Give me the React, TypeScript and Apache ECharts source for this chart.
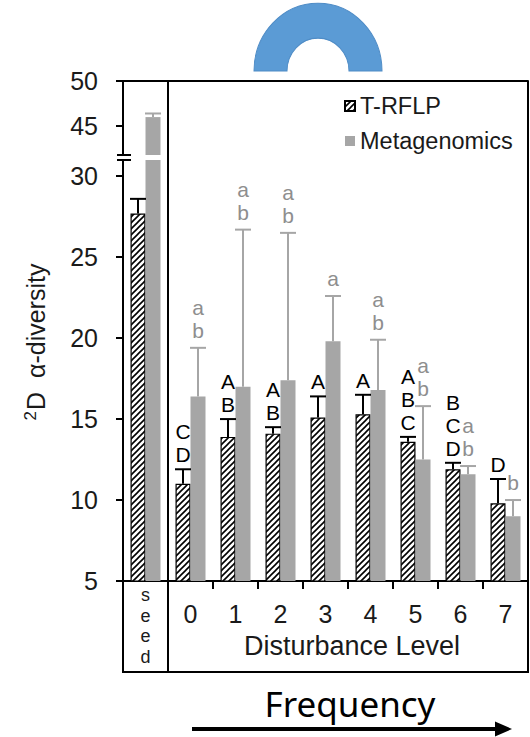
import React, { useEffect, useRef } from "react";
import * as echarts from "echarts";

// ---------- data ----------
const categories = ["seed", "0", "1", "2", "3", "4", "5", "6", "7"];
const trflpMean = [27.7, 11.0, 13.9, 14.1, 15.1, 15.3, 13.6, 11.9, 9.8];
const trflpErr = [0.9, 0.9, 1.1, 0.4, 1.3, 1.2, 0.3, 0.4, 1.5];
const metaMean = [46.0, 16.4, 17.0, 17.4, 19.8, 16.8, 12.5, 11.6, 9.0];
const metaErr = [0.4, 3.0, 9.7, 9.1, 2.8, 3.1, 3.3, 0.5, 1.0];
const trflpLetters = ["", "CD", "AB", "AB", "A", "A", "ABC", "BCD", "D"];
const metaLetters = ["", "ab", "ab", "ab", "a", "ab", "ab", "ab", "b"];
const lowerTicks = [5, 10, 15, 20, 25, 30];
const upperTicks = [45, 50];

// ---------- layout ----------
const W = 530;
const H = 737;
const L = 123;
const R = 528;
const UPPER_TOP = 81;
const UPPER_BOTTOM = 155;
const LOWER_TOP = 160;
const LOWER_BOTTOM = 581;
const BOX_BOTTOM = 672;
const LOWER_MIN = 5;
const LOWER_MAX = 31;
const UPPER_MIN = 41.8;
const UPPER_MAX = 50;
const BAR_W = 15;
const FONT = "Liberation Sans, Arial, sans-serif";
const GRAY = "#A6A6A6";
const GRAY_TEXT = "#8E8E8E";
const INK = "#1a1a1a";

function makeHatch() {
  const s = 6;
  const c = document.createElement("canvas");
  c.width = s;
  c.height = s;
  const ctx = c.getContext("2d")!;
  ctx.fillStyle = "#fff";
  ctx.fillRect(0, 0, s, s);
  ctx.strokeStyle = "#000";
  ctx.lineWidth = 1.6;
  ctx.beginPath();
  ctx.moveTo(-1, s + 1);
  ctx.lineTo(s + 1, -1);
  ctx.moveTo(-1, 1);
  ctx.lineTo(1, -1);
  ctx.moveTo(s - 1, s + 1);
  ctx.lineTo(s + 1, s - 1);
  ctx.stroke();
  return c;
}

function errorRenderer(
  sign: number,
  color: string,
  textColor: string,
  letters: string[],
  lo: number,
  hi: number,
  textGap: number
) {
  return (params: any, api: any) => {
    const i = api.value(0);
    const mean = api.value(1);
    const err = api.value(2);
    const top = mean + err;
    if (mean < lo || top > hi) return null;
    const base = api.coord([i, mean]);
    const cap = api.coord([i, top]);
    const x = base[0] + (sign * BAR_W) / 2;
    const children: any[] = [
      {
        type: "line",
        shape: { x1: x, y1: base[1], x2: x, y2: cap[1] },
        style: { stroke: color, lineWidth: 2 },
      },
      {
        type: "line",
        shape: { x1: x - 8, y1: cap[1], x2: x + 8, y2: cap[1] },
        style: { stroke: color, lineWidth: 2 },
      },
    ];
    const txt = letters[i];
    if (txt) {
      children.push({
        type: "text",
        x: x,
        y: cap[1] - textGap,
        style: {
          text: txt.split("").join("\n"),
          fill: textColor,
          fontSize: 21,
          fontFamily: FONT,
          lineHeight: 23,
          align: "center",
          verticalAlign: "bottom",
          textAlign: "center",
          textVerticalAlign: "bottom",
        },
      });
    }
    return { type: "group", children };
  };
}

export default function App() {
  const ref = useRef<HTMLDivElement>(null);

  useEffect(() => {
    document.body.style.margin = "0";
    if (!ref.current) return;
    const chart = echarts.init(ref.current, undefined, { renderer: "svg" });
    const hatch = { image: makeHatch(), repeat: "repeat", imageWidth: 6, imageHeight: 6 } as any;

    const sepX = L + (R - L) / categories.length;
    const trflpData = trflpMean.map((m, i) => [i, m, trflpErr[i]]);
    const metaData = metaMean.map((m, i) => [i, m, metaErr[i]]);

    const yAxisCommon = {
      type: "value",
      splitLine: { show: false },
      axisLine: { show: true, lineStyle: { color: "#000", width: 2 } },
    };

    const option: any = {
      animation: false,
      backgroundColor: "#fff",
      grid: [
        { left: L, right: W - R, top: LOWER_TOP, height: LOWER_BOTTOM - LOWER_TOP },
        { left: L, right: W - R, top: UPPER_TOP, height: UPPER_BOTTOM - UPPER_TOP },
      ],
      legend: {
        left: 339,
        top: 89,
        orient: "vertical",
        itemWidth: 10,
        itemHeight: 10,
        itemGap: 11,
        icon: "rect",
        selectedMode: false,
        data: ["T-RFLP", "Metagenomics"],
        textStyle: { fontSize: 23.5, fontFamily: FONT, color: INK, lineHeight: 24 },
      },
      xAxis: [
        {
          type: "category",
          gridIndex: 0,
          data: categories,
          axisLine: { show: true, lineStyle: { color: "#000", width: 2 } },
          axisTick: {
            show: true,
            length: 8,
            interval: (idx: number) => idx >= 2,
            lineStyle: { color: "#000", width: 2 },
          },
          axisLabel: {
            interval: 0,
            margin: 4,
            formatter: (v: string) =>
              v === "seed" ? "{seed|" + v.split("").join("\n") + "}" : "{num|" + v + "}",
            rich: {
              seed: { fontSize: 18, lineHeight: 20.5, color: INK, fontFamily: FONT },
              num: { fontSize: 25, color: INK, fontFamily: FONT, padding: [16, 0, 0, 0] },
            },
          },
        },
        {
          type: "category",
          gridIndex: 1,
          data: categories,
          position: "top",
          axisLine: { show: true, lineStyle: { color: "#000", width: 2 } },
          axisTick: { show: false },
          axisLabel: { show: false },
        },
      ],
      yAxis: [
        {
          ...yAxisCommon,
          gridIndex: 0,
          min: LOWER_MIN,
          max: LOWER_MAX,
          axisTick: {
            show: true,
            length: 7,
            customValues: lowerTicks,
            lineStyle: { color: "#000", width: 2 },
          },
          axisLabel: {
            customValues: lowerTicks,
            fontSize: 25,
            color: INK,
            fontFamily: FONT,
            margin: 25,
          },
        },
        {
          ...yAxisCommon,
          gridIndex: 1,
          min: UPPER_MIN,
          max: UPPER_MAX,
          axisTick: {
            show: true,
            length: 7,
            customValues: upperTicks,
            lineStyle: { color: "#000", width: 2 },
          },
          axisLabel: {
            customValues: upperTicks,
            fontSize: 25,
            color: INK,
            fontFamily: FONT,
            margin: 25,
          },
        },
      ],
      series: [
        {
          name: "T-RFLP",
          type: "bar",
          xAxisIndex: 0,
          yAxisIndex: 0,
          data: trflpMean,
          barWidth: BAR_W,
          barGap: "0%",
          itemStyle: { color: hatch, borderColor: "#000", borderWidth: 1.2 },
        },
        {
          name: "Metagenomics",
          type: "bar",
          xAxisIndex: 0,
          yAxisIndex: 0,
          data: metaMean,
          barWidth: BAR_W,
          barGap: "0%",
          itemStyle: { color: GRAY },
        },
        {
          name: "T-RFLP",
          type: "bar",
          xAxisIndex: 1,
          yAxisIndex: 1,
          data: trflpMean,
          barWidth: BAR_W,
          barGap: "0%",
          itemStyle: { color: hatch, borderColor: "#000", borderWidth: 1.2 },
        },
        {
          name: "Metagenomics",
          type: "bar",
          xAxisIndex: 1,
          yAxisIndex: 1,
          data: metaMean,
          barWidth: BAR_W,
          barGap: "0%",
          itemStyle: { color: GRAY },
        },
        {
          name: "errT",
          type: "custom",
          xAxisIndex: 0,
          yAxisIndex: 0,
          z: 5,
          data: trflpData,
          encode: { x: 0, y: 1 },
          renderItem: errorRenderer(-1, "#000", "#000", trflpLetters, LOWER_MIN, LOWER_MAX, 3),
        },
        {
          name: "errM",
          type: "custom",
          xAxisIndex: 0,
          yAxisIndex: 0,
          z: 5,
          data: metaData,
          encode: { x: 0, y: 1 },
          renderItem: errorRenderer(1, GRAY, GRAY_TEXT, metaLetters, LOWER_MIN, LOWER_MAX, 6),
        },
        {
          name: "errT2",
          type: "custom",
          xAxisIndex: 1,
          yAxisIndex: 1,
          z: 5,
          data: trflpData,
          encode: { x: 0, y: 1 },
          renderItem: errorRenderer(-1, "#000", "#000", trflpLetters, UPPER_MIN, UPPER_MAX, 3),
        },
        {
          name: "errM2",
          type: "custom",
          xAxisIndex: 1,
          yAxisIndex: 1,
          z: 5,
          data: metaData,
          encode: { x: 0, y: 1 },
          renderItem: errorRenderer(1, GRAY, GRAY_TEXT, metaLetters, UPPER_MIN, UPPER_MAX, 6),
        },
      ],
      graphic: [
        {
          type: "group",
          x: 318,
          y: 71,
          scaleY: 1.06,
          children: [
            {
              type: "sector",
              shape: { cx: 0, cy: 0, r: 64, r0: 31, startAngle: Math.PI, endAngle: 2 * Math.PI, clockwise: true },
              style: { fill: "#5B9BD5", stroke: "#4F8CC6", lineWidth: 1 },
            },
          ],
        },
        { type: "line", shape: { x1: sepX, y1: UPPER_TOP, x2: sepX, y2: BOX_BOTTOM }, style: { stroke: "#000", lineWidth: 2 } },
        { type: "line", shape: { x1: R, y1: UPPER_TOP, x2: R, y2: BOX_BOTTOM }, style: { stroke: "#000", lineWidth: 2 } },
        { type: "line", shape: { x1: L, y1: LOWER_BOTTOM, x2: L, y2: BOX_BOTTOM }, style: { stroke: "#000", lineWidth: 2 } },
        { type: "line", shape: { x1: L - 1, y1: BOX_BOTTOM, x2: R + 1, y2: BOX_BOTTOM }, style: { stroke: "#000", lineWidth: 2 } },
        { type: "line", shape: { x1: L - 6, y1: UPPER_BOTTOM, x2: L + 8, y2: UPPER_BOTTOM }, style: { stroke: "#000", lineWidth: 2 } },
        { type: "line", shape: { x1: L - 6, y1: LOWER_TOP, x2: L + 8, y2: LOWER_TOP }, style: { stroke: "#000", lineWidth: 2 } },
        {
          type: "text",
          x: (sepX + R) / 2 + 4,
          y: 646,
          style: {
            text: "Disturbance Level",
            fontSize: 27,
            fontFamily: FONT,
            fill: INK,
            align: "center",
            verticalAlign: "middle",
            textAlign: "center",
            textVerticalAlign: "middle",
          },
        },
        {
          type: "text",
          x: 36,
          y: 342,
          rotation: Math.PI / 2,
          style: {
            text: "{sup|2}{m|D  α-diversity}",
            fill: INK,
            align: "center",
            verticalAlign: "middle",
            textAlign: "center",
            textVerticalAlign: "middle",
            rich: {
              sup: { fontSize: 17, fontFamily: FONT, fill: INK, color: INK, padding: [0, 1, 12, 0] },
              m: { fontSize: 25, fontFamily: FONT, fill: INK, color: INK },
            },
          },
        },
        {
          type: "text",
          x: 350,
          y: 703,
          style: {
            text: "Frequency",
            fontSize: 35,
            fontFamily: "Noto Sans, sans-serif",
            fill: "#000",
            align: "center",
            verticalAlign: "middle",
            textAlign: "center",
            textVerticalAlign: "middle",
          },
        },
        { type: "line", shape: { x1: 192, y1: 729, x2: 498, y2: 729 }, style: { stroke: "#000", lineWidth: 4 } },
        {
          type: "polygon",
          shape: { points: [[495, 721.5], [512, 729], [495, 736.5]] },
          style: { fill: "#000" },
        },
      ],
    };

    chart.setOption(option);
    return () => chart.dispose();
  }, []);

  return <div ref={ref} style={{ width: W, height: H }} />;
}
